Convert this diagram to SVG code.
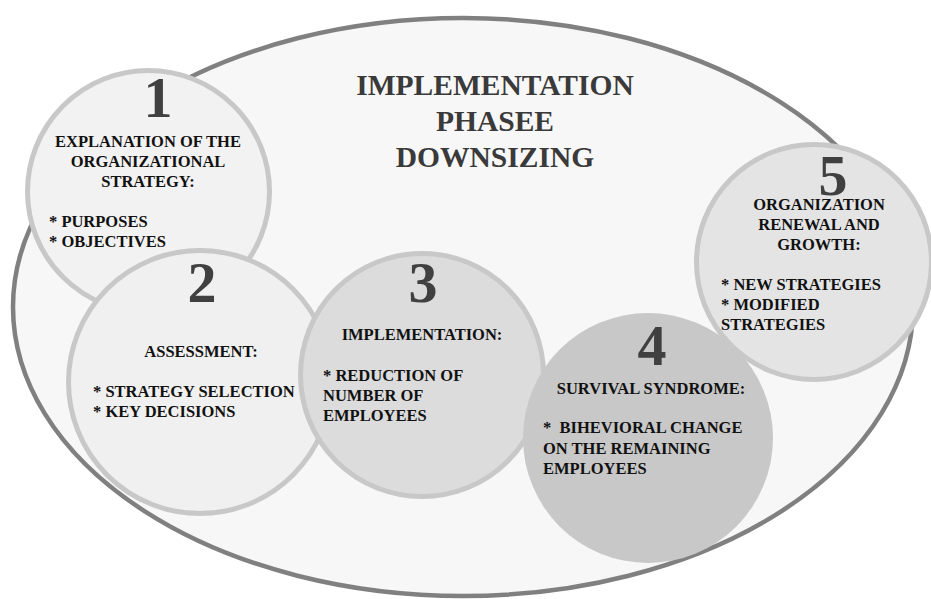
<svg xmlns="http://www.w3.org/2000/svg" width="931" height="599" viewBox="0 0 931 599">
<style>
.t{font-family:"Liberation Serif","Times New Roman",serif;font-weight:bold;}
.num{font-size:58px;fill:#404040;text-anchor:middle;}
.title{font-size:29.5px;fill:#3a3a3a;text-anchor:middle;}
.b{font-size:16.5px;fill:#111;}
.c{text-anchor:middle;}
.ring{stroke:#c8c8c8;stroke-width:5;}
</style>
<rect x="0" y="0" width="931" height="599" fill="#ffffff"/>
<g id="outer">
<ellipse cx="463" cy="307" rx="450" ry="289" fill="#f7f7f7" stroke="#808080" stroke-width="4.5"/>
<text class="t title" x="495" y="95">IMPLEMENTATION</text>
<text class="t title" x="495" y="131">PHASEE</text>
<text class="t title" x="495" y="167">DOWNSIZING</text>
</g>
<g id="connectors"></g>
<g id="node1">
<circle class="ring" cx="148.5" cy="191.5" r="121" fill="#f2f2f2"/>
<text class="t num" x="158" y="117">1</text>
<text class="t b c" x="148" y="147">EXPLANATION OF THE</text>
<text class="t b c" x="148" y="167">ORGANIZATIONAL</text>
<text class="t b c" x="148" y="187">STRATEGY:</text>
<text class="t b" x="49" y="227">* PURPOSES</text>
<text class="t b" x="49" y="247">* OBJECTIVES</text>
</g>
<g id="node2">
<circle class="ring" cx="200" cy="382" r="131.5" fill="#f0f0f0"/>
<text class="t num" x="202" y="302">2</text>
<text class="t b c" x="201" y="357">ASSESSMENT:</text>
<text class="t b" x="93" y="397">* STRATEGY SELECTION</text>
<text class="t b" x="93" y="417">* KEY DECISIONS</text>
</g>
<g id="node3">
<circle class="ring" cx="422" cy="375" r="121.5" fill="#dcdcdc"/>
<text class="t num" x="423" y="302">3</text>
<text class="t b c" x="422" y="340">IMPLEMENTATION:</text>
<text class="t b" x="323" y="381">* REDUCTION OF</text>
<text class="t b" x="323" y="401">NUMBER OF</text>
<text class="t b" x="323" y="421">EMPLOYEES</text>
</g>
<g id="node4">
<circle cx="648" cy="438" r="125" fill="#c8c8c8"/>
<text class="t num" x="652" y="365">4</text>
<text class="t b c" x="651" y="394">SURVIVAL SYNDROME:</text>
<text class="t b" x="543" y="433" xml:space="preserve">*  BIHEVIORAL CHANGE</text>
<text class="t b" x="543" y="454">ON THE REMAINING</text>
<text class="t b" x="543" y="474">EMPLOYEES</text>
</g>
<g id="node5">
<circle class="ring" cx="814" cy="262" r="117.5" fill="#e4e4e4"/>
<text class="t num" x="833" y="195">5</text>
<text class="t b c" x="819" y="210">ORGANIZATION</text>
<text class="t b c" x="819" y="230">RENEWAL AND</text>
<text class="t b c" x="819" y="250">GROWTH:</text>
<text class="t b" x="721" y="290">* NEW STRATEGIES</text>
<text class="t b" x="721" y="310">* MODIFIED</text>
<text class="t b" x="721" y="330">STRATEGIES</text>
</g>
</svg>
